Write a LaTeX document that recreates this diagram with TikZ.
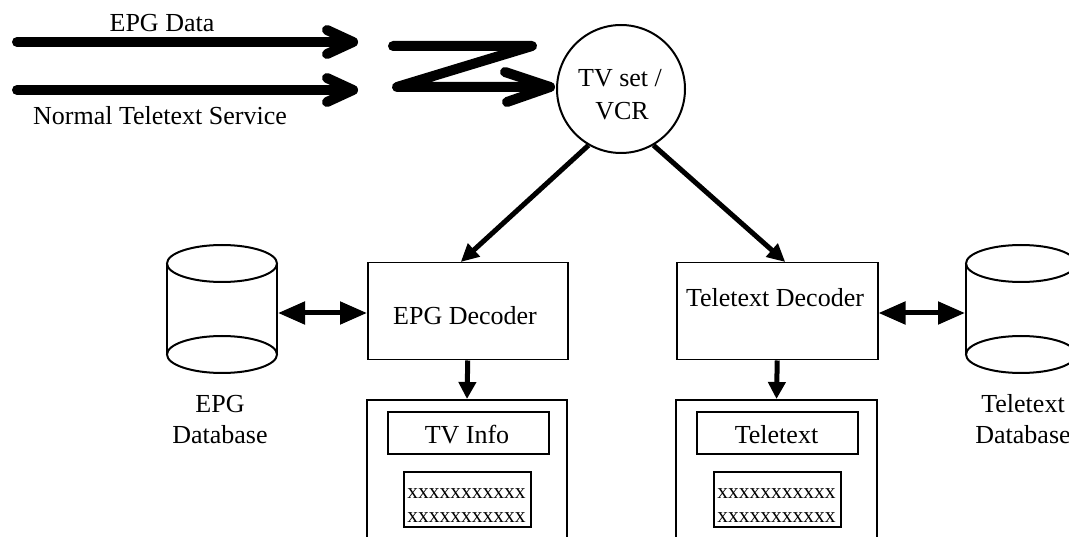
\documentclass[tikz,border=0pt]{standalone}
\usepackage{fontspec}
\setmainfont{Liberation Serif}
\usetikzlibrary{arrows.meta,calc}
\begin{document}
\begin{tikzpicture}[x=1pt,y=-1pt,
  lbl/.style={inner sep=0pt, anchor=base, font=\fontsize{26pt}{33pt}\selectfont},
  xlbl/.style={inner sep=0pt, anchor=base, font=\fontsize{21.5pt}{24pt}\selectfont},
  box/.style={draw, line width=1.5pt, inner sep=0pt},
  frame/.style={draw, line width=2pt, inner sep=0pt},
  broad/.style={line width=10pt, line cap=round, line join=round},
  link/.style={line width=5pt, -{Triangle[length=18pt,width=17pt]}},
  drop/.style={line width=5pt, -{Triangle[length=17pt,width=17pt]}},
  dbl/.style={line width=5pt, {Triangle[length=27pt,width=22pt]}-{Triangle[length=27pt,width=22pt]}},
  db/.style={line width=2pt},
]
\useasboundingbox (0,0) rectangle (1069,537);

% incoming broadcast streams
\coordinate (epgsrc) at (17,42);
\coordinate (epgtip) at (353,42);
\coordinate (ttsrc) at (17,90);
\coordinate (tttip) at (353,90);
\draw[broad] (epgsrc) -- (epgtip);
\draw[broad] (327,30) -- (epgtip) -- (327,54);
\draw[broad] (ttsrc) -- (tttip);
\draw[broad] (327,78) -- (tttip) -- (327,102);
\node[lbl] (epgdata) at (162,32) {EPG Data};
\node[lbl] (normal) at (160,125) {Normal Teletext Service};

% TV set / VCR
\node[frame, circle, minimum size=128pt] (tv) at (621,89) {};
\node[lbl] (tvtxt1) at (620,87) {TV set /};
\node[lbl] (tvtxt2) at (622,120) {VCR};

% combined signal into the receiver
\coordinate (zA) at (393,46);
\coordinate (zB) at (532,46);
\coordinate (zC) at (397,87);
\coordinate (zD) at (550,87);
\draw[broad] (zA) -- (zB) -- (zC) -- (zD);
\draw[broad] (505,72) -- (zD) -- (507,102);

% decoders
\node[box, minimum width=200pt, minimum height=97pt, anchor=north west] (epgdec) at (367,262) {};
\node[lbl] (epgdectxt) at (465,325) {EPG Decoder};
\node[box, minimum width=201pt, minimum height=97pt, anchor=north west] (ttdec) at (676,262) {};
\node[lbl] (ttdectxt) at (775,307) {Teletext Decoder};

\draw[link] (tv.240) -- ([xshift=-7pt]epgdec.north);
\draw[link] (tv.300) -- ([xshift=8pt]ttdec.north);

% screens
\node[frame, minimum width=200pt, minimum height=160pt, anchor=north] (epgscr) at (467,399) {};
\node[frame, minimum width=201pt, minimum height=160pt, anchor=north] (ttscr) at (776.5,399) {};
\draw[drop] (epgdec.south) -- (epgscr.north);
\draw[drop] (ttdec.south) -- (ttscr.north);

\node[frame, minimum width=161pt, minimum height=42pt, anchor=north west] (tvinfo) at (387,411) {};
\node[lbl] (tvinfotxt) at (467,443) {TV Info};
\node[frame, minimum width=127pt, minimum height=55pt, anchor=north west] (epgbody) at (403,471) {};
\node[xlbl] (epgl1) at (466.5,498) {xxxxxxxxxxx};
\node[xlbl] (epgl2) at (466.5,522) {xxxxxxxxxxx};

\node[frame, minimum width=161pt, minimum height=42pt, anchor=north west] (ttpage) at (696,411) {};
\node[lbl] (ttpagetxt) at (776.5,443) {Teletext};
\node[frame, minimum width=127pt, minimum height=55pt, anchor=north west] (ttbody) at (713,471) {};
\node[xlbl] (ttl1) at (776.5,498) {xxxxxxxxxxx};
\node[xlbl] (ttl2) at (776.5,522) {xxxxxxxxxxx};

% databases
\draw[db] (167,263.5) -- (167,354.5) (277,263.5) -- (277,354.5);
\draw[db] (222,263.5) ellipse [x radius=55pt, y radius=18.5pt];
\draw[db] (222,354.5) ellipse [x radius=55pt, y radius=18.5pt];
\coordinate (epgdb) at (278,313);
\node[lbl] (epgdbtxt1) at (220,413) {EPG};
\node[lbl] (epgdbtxt2) at (220,443) {Database};

\draw[db] (966,263.5) -- (966,354.5) (1076,263.5) -- (1076,354.5);
\draw[db] (1021,263.5) ellipse [x radius=55pt, y radius=18.5pt];
\draw[db] (1021,354.5) ellipse [x radius=55pt, y radius=18.5pt];
\coordinate (ttdb) at (965,313);
\node[lbl] (ttdbtxt1) at (1023,413) {Teletext};
\node[lbl] (ttdbtxt2) at (1023,443) {Database};

\draw[dbl] (epgdb) -- (epgdb -| epgdec.west);
\draw[dbl] (ttdb -| ttdec.east) -- (ttdb);
\end{tikzpicture}
\end{document}
